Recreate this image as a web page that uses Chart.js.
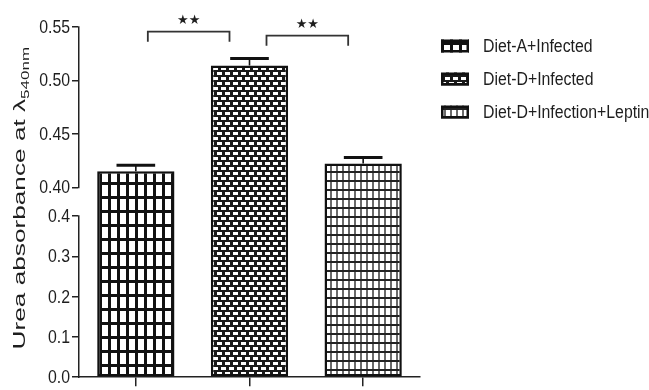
<!DOCTYPE html>
<html>
<head>
<meta charset="utf-8">
<script src="https://cdn.jsdelivr.net/npm/chart.js@4/dist/chart.umd.min.js"></script>
<style>
  html, body { margin: 0; padding: 0; background: #fff; }
  canvas { display: block; }
</style>
</head>
<body>
<canvas id="c" width="649" height="390"></canvas>
<script>
// Groups and urea absorbance (mean ± SEM)
const categories = ['Diet-A+Infected', 'Diet-D+Infected', 'Diet-D+Infection+Leptin'];
const means = [0.415, 0.514, 0.4224];
const sems = [0.0056, 0.0065, 0.0056];

// Broken y axis: lower segment 0–0.4, upper segment 0.40–0.55
const lowerTicks = [0, 0.1, 0.2, 0.3, 0.4];
const lowerTickLabels = ['0.0', '0.1', '0.2', '0.3', '0.4'];
const upperTicks = [0.40, 0.45, 0.50, 0.55];
const upperTickLabels = ['0.40', '0.45', '0.50', '0.55'];

// Significance brackets between neighbouring groups
const bracketPairs = [[0, 1], [1, 2]];
const bracketLevels = [0.5456, 0.5419];
const bracketLabels = ['★★', '★★'];

const SANS = "'Liberation Sans', Arial, sans-serif";
const INK = '#1e1e1e';

// Linear scale with a break: two linear segments separated by a gap
class BrokenLinearScale extends Chart.LinearScale {
  buildTicks() {
    return lowerTicks.map(v => ({ value: v, upper: false }))
      .concat(upperTicks.map(v => ({ value: v, upper: true })));
  }
  _segments() {
    const h = this.bottom - this.top;
    const lowTop = this.bottom - h * this.options.lowerFraction;
    const highBottom = lowTop - h * this.options.gapFraction;
    return { lowTop, highBottom };
  }
  _lowPixel(v) {
    const s = this._segments();
    const lo = lowerTicks[0], hi = lowerTicks[lowerTicks.length - 1];
    return this.bottom - (v - lo) / (hi - lo) * (this.bottom - s.lowTop);
  }
  _highPixel(v) {
    const s = this._segments();
    const lo = upperTicks[0], hi = upperTicks[upperTicks.length - 1];
    return s.highBottom - (v - lo) / (hi - lo) * (s.highBottom - this.top);
  }
  getPixelForValue(v) {
    return v <= lowerTicks[lowerTicks.length - 1] ? this._lowPixel(v) : this._highPixel(v);
  }
  getPixelForTick(i) {
    const t = this.ticks[i];
    if (!t) return null;
    return t.upper ? this._highPixel(t.value) : this._lowPixel(t.value);
  }
  getValueForPixel(p) {
    const s = this._segments();
    if (p >= s.lowTop) {
      const lo = lowerTicks[0], hi = lowerTicks[lowerTicks.length - 1];
      return lo + (this.bottom - p) / (this.bottom - s.lowTop) * (hi - lo);
    }
    const lo = upperTicks[0], hi = upperTicks[upperTicks.length - 1];
    return lo + (s.highBottom - p) / (s.highBottom - this.top) * (hi - lo);
  }
  drawBorder() {
    const b = this.options.border;
    if (!b.display) return;
    const ctx = this.ctx;
    const s = this._segments();
    const x = this._borderValue !== undefined ? this._borderValue : this.right;
    const lw = b.width;
    ctx.save();
    ctx.lineWidth = lw;
    ctx.strokeStyle = b.color;
    ctx.beginPath();
    ctx.moveTo(x, this.bottom + lw / 2);
    ctx.lineTo(x, s.lowTop - lw / 2);
    ctx.moveTo(x, s.highBottom + lw / 2);
    ctx.lineTo(x, this.top - lw / 2);
    ctx.stroke();
    ctx.restore();
  }
  // Tick labels set in a horizontally condensed face
  drawLabels() {
    const ctx = this.ctx;
    const t = this.options.ticks;
    const f = t.font;
    const x = this.right - this.options.grid.tickLength - t.padding;
    ctx.save();
    ctx.font = f.size + 'px ' + f.family;
    ctx.fillStyle = t.color;
    ctx.textAlign = 'right';
    ctx.textBaseline = 'middle';
    this.ticks.forEach((tick, i) => {
      ctx.save();
      ctx.translate(x, this.getPixelForTick(i) + 1);
      ctx.scale(t.condense, 1);
      ctx.fillText(tick.label, 0, 0);
      ctx.restore();
    });
    ctx.restore();
  }
}
BrokenLinearScale.id = 'brokenLinear';
BrokenLinearScale.defaults = {};
Chart.register(BrokenLinearScale);

// Hatch fills
function makePattern(w, h, draw) {
  const c = document.createElement('canvas');
  c.width = w; c.height = h;
  const g = c.getContext('2d');
  draw(g, w, h);
  return g.createPattern(c, 'repeat');
}
const patterns = [
  makePattern(9, 14, (g) => {
    g.fillStyle = '#111'; g.fillRect(0, 0, 9, 14);
    g.fillStyle = '#fff'; g.fillRect(3, 3, 6, 11);
  }),
  makePattern(8, 10, (g) => {
    g.fillStyle = '#1a1a1a'; g.fillRect(0, 0, 8, 10);
    g.fillStyle = '#fff';
    g.fillRect(1, 2, 5, 3);
    g.fillRect(5, 7, 5, 3); g.fillRect(-3, 7, 5, 3);
  }),
  makePattern(6, 9, (g) => {
    g.fillStyle = '#fff'; g.fillRect(0, 0, 6, 9);
    g.fillStyle = '#6a6a6a'; g.fillRect(0, 0, 2, 9);
    g.fillStyle = '#222'; g.fillRect(0, 0, 6, 2);
  })
];

const tickLabels = lowerTickLabels.concat(upperTickLabels);

// Upward error bars (mean + SEM)
const errorBarPlugin = {
  id: 'errorBars',
  afterDatasetsDraw(chart, args, o) {
    const { ctx } = chart;
    const y = chart.scales.y;
    chart.data.datasets.forEach((ds, i) => {
      const meta = chart.getDatasetMeta(i);
      meta.data.forEach((bar, j) => {
        const v = ds.data[j];
        if (v === null || v === undefined) return;
        const top = y.getPixelForValue(v + ds.errors[j]);
        const half = bar.width * o.capRatio / 2;
        ctx.save();
        ctx.strokeStyle = o.color;
        ctx.lineWidth = o.stemWidth;
        ctx.beginPath();
        ctx.moveTo(bar.x, bar.y);
        ctx.lineTo(bar.x, top);
        ctx.stroke();
        ctx.lineWidth = o.capWidth;
        ctx.beginPath();
        ctx.moveTo(bar.x - half, top);
        ctx.lineTo(bar.x + half, top);
        ctx.stroke();
        ctx.restore();
      });
    });
  }
};

// Significance brackets with star labels
const bracketPlugin = {
  id: 'brackets',
  afterDatasetsDraw(chart, args, o) {
    const { ctx } = chart;
    const x = chart.scales.x, y = chart.scales.y;
    bracketPairs.forEach((pair, k) => {
      const x1 = x.getPixelForValue(pair[0]) + o.insets[k][0];
      const x2 = x.getPixelForValue(pair[1]) - o.insets[k][1];
      const yt = y.getPixelForValue(bracketLevels[k]);
      ctx.save();
      ctx.strokeStyle = o.color;
      ctx.lineWidth = o.lineWidth;
      ctx.beginPath();
      ctx.moveTo(x1, yt + o.leg);
      ctx.lineTo(x1, yt);
      ctx.lineTo(x2, yt);
      ctx.lineTo(x2, yt + o.leg);
      ctx.stroke();
      ctx.fillStyle = INK;
      ctx.font = o.font;
      ctx.textAlign = 'center';
      ctx.textBaseline = 'middle';
      ctx.fillText(bracketLabels[k], (x1 + x2) / 2, yt - o.labelGap);
      ctx.restore();
    });
  }
};

// Legend on the right with hatched swatches
const sideLegendPlugin = {
  id: 'sideLegend',
  afterDraw(chart, args, o) {
    const { ctx } = chart;
    chart.data.datasets.forEach((ds, i) => {
      const cy = o.y + i * o.rowGap;
      ctx.save();
      ctx.fillStyle = ds.backgroundColor;
      ctx.fillRect(o.x, cy - o.boxH / 2, o.boxW, o.boxH);
      ctx.strokeStyle = '#111';
      ctx.lineWidth = 2.5;
      ctx.strokeRect(o.x + 1.25, cy - o.boxH / 2 + 1.25, o.boxW - 2.5, o.boxH - 2.5);
      ctx.fillStyle = INK;
      ctx.font = o.font;
      ctx.textAlign = 'left';
      ctx.textBaseline = 'middle';
      ctx.translate(o.x + o.textOffset, cy + 1);
      ctx.scale(o.condense, 1);
      ctx.fillText(ds.label, 0, 0);
      ctx.restore();
    });
  }
};

// Rotated y-axis title with a subscript
const yTitlePlugin = {
  id: 'yTitle',
  afterDraw(chart, args, o) {
    const { ctx } = chart;
    const y = chart.scales.y;
    ctx.save();
    ctx.translate(o.x, (y.top + y.bottom) / 2 + o.dy);
    ctx.rotate(-Math.PI / 2);
    ctx.scale(o.stretch, o.squeeze);
    ctx.fillStyle = INK;
    ctx.textBaseline = 'alphabetic';
    const mainFont = o.size + 'px ' + SANS;
    const subFont = o.subSize + 'px ' + SANS;
    ctx.font = mainFont;
    const w1 = ctx.measureText(o.text).width;
    ctx.font = subFont;
    const w2 = ctx.measureText(o.sub).width;
    const x0 = -(w1 + w2) / 2;
    ctx.font = mainFont;
    ctx.fillText(o.text, x0, 0);
    ctx.font = subFont;
    ctx.fillText(o.sub, x0 + w1, o.subDrop);
    ctx.restore();
  }
};

new Chart(document.getElementById('c'), {
  type: 'bar',
  data: {
    labels: categories,
    datasets: categories.map((name, i) => ({
      label: name,
      data: categories.map((_, j) => (j === i ? means[i] : null)),
      errors: categories.map((_, j) => (j === i ? sems[i] : null)),
      backgroundColor: patterns[i],
      borderColor: '#111',
      borderWidth: 2.5,
      borderSkipped: false,
      grouped: false,
      barPercentage: 0.68,
      categoryPercentage: 1
    }))
  },
  options: {
    responsive: false,
    animation: false,
    devicePixelRatio: 1,
    layout: { padding: { left: 0, right: 229, top: 27, bottom: 0 } },
    plugins: {
      legend: { display: false },
      tooltip: { enabled: false },
      errorBars: { color: '#111', stemWidth: 1.6, capWidth: 3, capRatio: 0.5 },
      brackets: { color: '#333', lineWidth: 1.8, leg: 10, labelGap: 11, insets: [[12, 20], [17, 15]], font: "13px 'DejaVu Sans', sans-serif" },
      sideLegend: { x: 441, y: 46, rowGap: 33, boxW: 28, boxH: 13, textOffset: 42, condense: 0.88, font: '18px ' + SANS },
      yTitle: { text: 'Urea absorbance at λ', sub: '540nm', x: 25, dy: -4, size: 20, subSize: 13, subDrop: 4.5, stretch: 1.31, squeeze: 0.84 }
    },
    scales: {
      x: {
        type: 'category',
        offset: true,
        ticks: { display: false },
        grid: { offset: false, drawOnChartArea: false, drawTicks: true, tickLength: 9, color: '#222', lineWidth: 1.5 },
        border: { color: '#222', width: 1.5 },
        afterFit(s) { s.height = 9; }
      },
      y: {
        type: 'brokenLinear',
        min: 0,
        max: 0.55,
        lowerFraction: 0.46,
        gapFraction: 0.082,
        afterFit(s) { s.width = 79; },
        ticks: {
          autoSkip: false,
          callback: (v, i) => tickLabels[i],
          font: { family: SANS, size: 18 },
          condense: 0.88,
          color: INK,
          padding: 2
        },
        grid: { drawOnChartArea: false, drawTicks: true, tickLength: 7, color: '#222', lineWidth: 1.5 },
        border: { color: '#222', width: 1.5 }
      }
    }
  },
  plugins: [errorBarPlugin, bracketPlugin, sideLegendPlugin, yTitlePlugin]
});
</script>
</body>
</html>
